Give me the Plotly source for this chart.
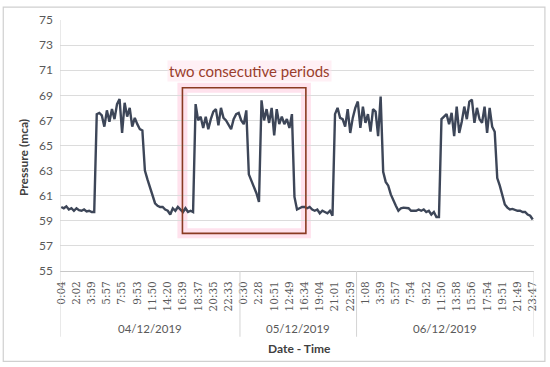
import plotly.graph_objects as go

# ---- data ----
pressure = [
    60.1, 60.0, 60.15, 59.9, 60.0, 59.8, 60.0, 59.85, 59.8, 59.9, 59.75, 59.8, 59.7, 59.7,
    67.5, 67.6, 67.4, 66.5, 67.8, 66.9, 67.9, 67.1, 68.3, 68.7, 66.0, 68.4, 67.3, 68.0, 66.5, 67.2, 66.7, 66.3, 66.2,
    63.0, 62.3, 61.6, 61.0, 60.4, 60.2, 60.1, 60.1, 59.9, 59.8, 59.5, 60.0, 59.8, 60.1, 59.9, 59.7, 60.0, 59.7, 59.8, 59.7,
    68.3, 67.0, 67.3, 66.4, 67.3, 66.3, 67.1, 67.7, 67.9, 66.6, 68.0, 67.2, 67.0, 66.7, 66.3, 67.1, 67.5, 67.6, 67.0, 66.7, 67.8,
    62.7, 62.2, 61.7, 61.2, 60.5,
    68.6, 67.0, 67.9, 66.8, 68.0, 65.8, 67.9, 66.7, 67.3, 66.7, 67.1, 66.4, 67.5,
    60.9, 59.9, 60.0, 60.1, 60.1, 60.0, 60.1, 59.9, 59.8, 59.9, 59.6, 59.8, 59.7, 59.6, 59.8, 59.4,
    67.5, 68.0, 67.2, 67.1, 66.5, 67.9, 66.0, 67.2, 68.0, 68.5, 66.4, 68.1, 66.8, 67.5, 66.1, 67.9, 67.7, 65.75, 68.9,
    62.9, 62.1, 61.8, 61.1, 60.6, 60.2, 59.8, 60.0, 60.05, 60.05, 60.0, 59.8, 59.8, 59.8, 59.9, 59.8, 59.9, 59.7, 59.8, 59.5, 59.7, 59.3, 59.3,
    67.1, 67.3, 67.5, 66.7, 67.6, 65.75, 68.1, 66.0, 66.9, 68.1, 67.1, 68.5, 68.65, 66.8, 68.0, 67.1, 66.8, 68.1, 66.0, 68.0, 66.5, 66.1,
    62.4, 61.8, 61.0, 60.3, 60.05, 59.9, 59.95, 59.85, 59.8, 59.8, 59.7, 59.7, 59.5, 59.4, 59.1,
]
time_labels = [
    "0:04", "2:02", "3:59", "5:57", "7:55", "9:53", "11:50", "14:20", "16:39", "18:37", "20:35", "22:33",
    "0:30", "2:28", "10:51", "12:49", "16:34", "19:04", "21:01", "22:59",
    "1:08", "3:59", "5:57", "7:54", "9:52", "11:50", "13:58", "15:56", "17:54", "19:51", "21:49", "23:47",
]
label_step = 6
dates = ["04/12/2019", "05/12/2019", "06/12/2019"]
day_counts = [71, 46, 70]
box_range = [47.8, 96.5, 58.0, 69.6]
box_text = "two consecutive periods"

x = list(range(len(pressure)))
tickvals = [i * label_step for i in range(len(time_labels))]

fig = go.Figure()
fig.add_trace(go.Scatter(x=x, y=pressure, mode="lines",
                         line=dict(color="#3d4658", width=2.4), hoverinfo="skip"))

FONT = "Lato"
GRAY = "#595959"

# day boundaries
bounds = [-0.5]
for c in day_counts:
    bounds.append(bounds[-1] + c)

shapes = []
ybot = -0.262
for i, b in enumerate(bounds):
    y1 = 1 if i == 0 else 0
    shapes.append(dict(type="line", xref="x", yref="paper", x0=b, x1=b, y0=ybot, y1=y1,
                       line=dict(color="#d4d4d4", width=1)))
annotations = []
for i, d in enumerate(dates):
    annotations.append(dict(x=(bounds[i] + bounds[i + 1]) / 2, y=-0.229, xref="x", yref="paper",
                            text=d, showarrow=False, font=dict(family=FONT, size=11.5, color=GRAY),
                            yanchor="middle"))

# highlight box with pink glow
x0, x1, y0, y1 = box_range
shapes.append(dict(type="rect", xref="x", yref="y", x0=x0, x1=x1, y0=y0, y1=y1,
                   line=dict(color="rgba(255,190,215,0.45)", width=10), layer="below"))
shapes.append(dict(type="rect", xref="x", yref="y", x0=x0, x1=x1, y0=y0, y1=y1,
                   line=dict(color="#8a3b22", width=1.6)))
annotations.append(dict(x=(x0 + x1) / 2, y=y1, xref="x", yref="y", text=box_text,
                        showarrow=False, yanchor="bottom", yshift=6, xshift=5,
                        font=dict(family=FONT, size=15, color="#9a3e2c"),
                        bgcolor="rgba(255,225,235,0.5)"))

# outer border
shapes.append(dict(type="rect", xref="paper", yref="paper", x0=-0.1197, x1=1.023, y0=-0.36, y1=1.051,
                   line=dict(color="#d0d0d0", width=1.2), layer="below"))

# axis titles
annotations.append(dict(x=-0.078, y=0.45, xref="paper", yref="paper", text="<b>Pressure (mca)</b>",
                        textangle=-90, showarrow=False, font=dict(family=FONT, size=12, color="#404040"),
                        xanchor="center", yanchor="middle"))
annotations.append(dict(x=0.506, y=-0.31, xref="paper", yref="paper", text="<b>Date - Time</b>",
                        showarrow=False, font=dict(family=FONT, size=12, color="#404040"),
                        xanchor="center", yanchor="middle"))

fig.update_layout(
    width=550, height=367,
    margin=dict(l=60, r=14, t=18, b=96),
    paper_bgcolor="white", plot_bgcolor="white",
    showlegend=False,
    shapes=shapes, annotations=annotations,
    xaxis=dict(range=[-0.5, len(pressure) - 0.5], tickmode="array", tickvals=tickvals,
               ticktext=time_labels, tickangle=-90, showgrid=False, zeroline=False,
               showline=True, linecolor="#c8c8c8", linewidth=1, ticks="",
               ticklabelstandoff=5,
               tickfont=dict(family="DejaVu Serif", size=10.5, color=GRAY)),
    yaxis=dict(range=[55, 75], dtick=2, tick0=55, showgrid=True, gridcolor="#dcdcdc", gridwidth=1,
               zeroline=False, showline=False, ticks="", ticklabelstandoff=6,
               tickfont=dict(family=FONT, size=12, color=GRAY)),
)

# remove the page's default body margin so the figure sits at the window origin
fig.write_html("out.html", config={"displayModeBar": False},
               post_script="document.body.style.margin='0';")
